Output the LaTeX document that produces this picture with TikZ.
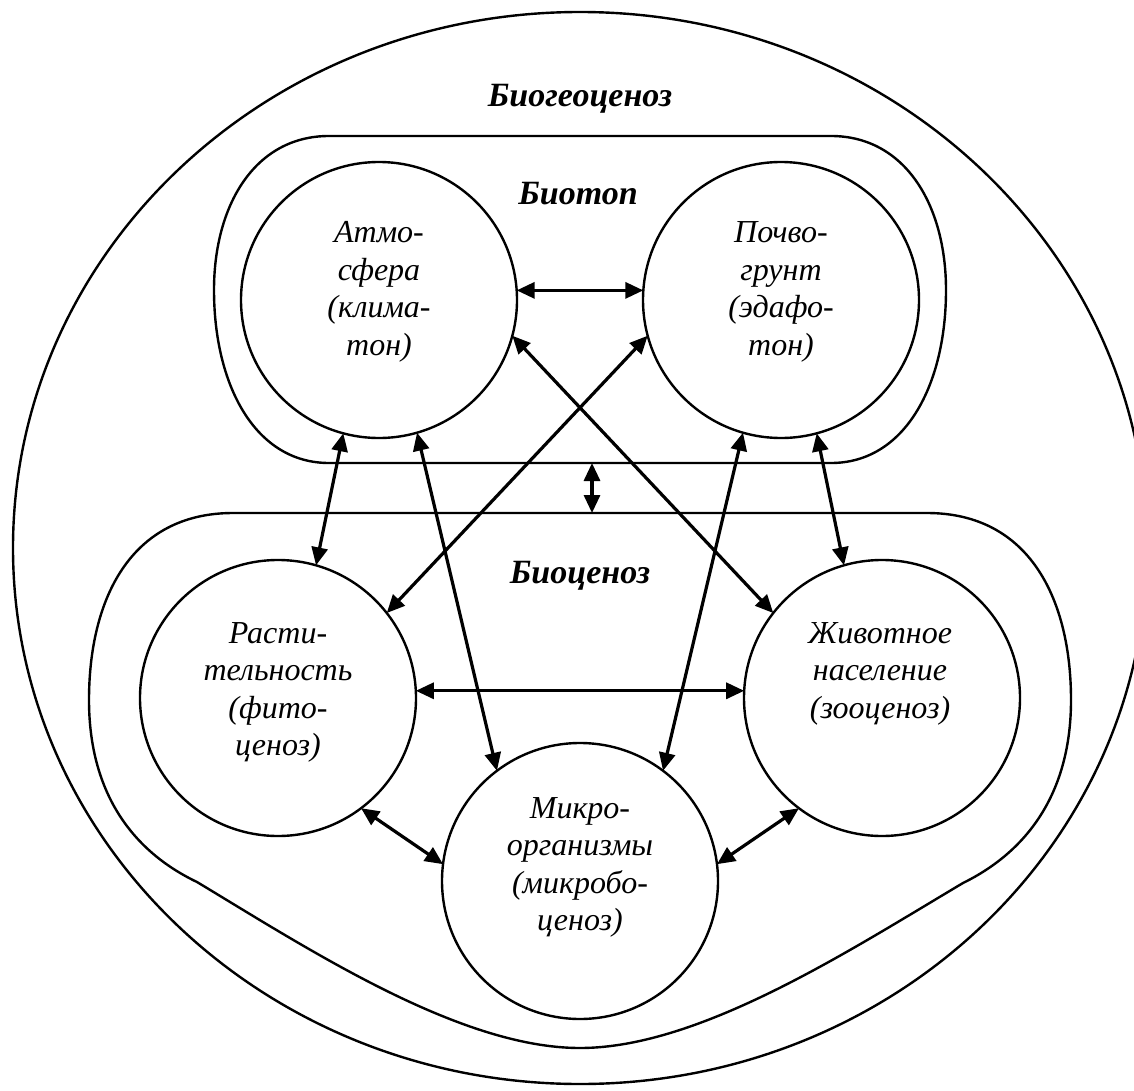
\documentclass[tikz,border=0pt]{standalone}
\usepackage{fontspec}
\setmainfont{Liberation Serif}
\usetikzlibrary{arrows.meta}
\begin{document}
\begin{tikzpicture}[x=1pt,y=-1pt,
  ring/.style={circle, draw, line width=2.4pt, minimum size=276pt, inner sep=0pt, outer sep=0pt},
  link/.style={{Triangle[length=18pt,width=16pt]}-{Triangle[length=18pt,width=16pt]}, line width=3.2pt},
  lab/.style={font=\fontsize{32}{37.5}\selectfont\itshape, inner sep=0pt, anchor=base},
  title/.style={font=\fontsize{34}{40}\selectfont\bfseries\itshape, inner sep=0pt, anchor=base},
  frame/.style={draw, line width=2.4pt}
]
\useasboundingbox (0,0) rectangle (1134,1091);
% outer biogeocenosis
\draw[frame] (580,548) ellipse [x radius=567, y radius=536];
\node[title] (tbgc) at (580,107) {Биогеоценоз};
% biotope
\draw[frame] (329,136) -- (831,136)
  .. controls (905,136) and (946,205) .. (946,290)
  .. controls (946,385) and (905,463) .. (831,463)
  -- (329,463)
  .. controls (255,463) and (214,385) .. (214,290)
  .. controls (214,205) and (255,136) .. cycle;
\coordinate (btBot) at (592,463);
\node[title] (tbt) at (578,205) {Биотоп};
% biocenosis
\draw[frame] (233,513) -- (927,513)
  .. controls (1030,513) and (1071,600) .. (1071,700)
  .. controls (1071,790) and (1030,850) .. (963,883)
  .. controls (850,950) and (700,1048) .. (580,1048)
  .. controls (460,1048) and (310,950) .. (197,882)
  .. controls (130,850) and (89,790) .. (89,700)
  .. controls (89,600) and (130,513) .. cycle;
\coordinate (bcTop) at (592,513);
\node[title] (tbc) at (580,583) {Биоценоз};
% circles
\node[ring] (atm) at (379,300) {};
\node[ring] (poch) at (781,300) {};
\node[ring] (rast) at (278,698) {};
\node[ring] (zhiv) at (882,698) {};
\node[ring] (mikro) at (580,881) {};
% labels
\node[lab] (tatm) at (379,243) {\begin{tabular}[t]{@{}c@{}}Атмо-\\сфера\\(клима-\\тон)\end{tabular}};
\node[lab] (tpoch) at (781,243) {\begin{tabular}[t]{@{}c@{}}Почво-\\грунт\\(эдафо-\\тон)\end{tabular}};
\node[lab] (trast) at (278,643) {\begin{tabular}[t]{@{}c@{}}Расти-\\тельность\\(фито-\\ценоз)\end{tabular}};
\node[lab] (tzhiv) at (880,643) {\begin{tabular}[t]{@{}c@{}}Животное\\население\\(зооценоз)\end{tabular}};
\node[lab] (tmikro) at (580,818) {\begin{tabular}[t]{@{}c@{}}Микро-\\организмы\\(микробо-\\ценоз)\end{tabular}};
% connectors
\draw[link] (atm.4) -- (poch.176);
\draw[link] (atm.-15) -- (zhiv.142);
\draw[link] (poch.-165) -- (rast.38);
\draw[link] (atm.-105) -- (rast.74);
\draw[link] (atm.-74) -- (mikro.127);
\draw[link] (poch.-106) -- (mikro.53);
\draw[link] (poch.-75) -- (zhiv.106);
\draw[link] (rast.3) -- (zhiv.177);
\draw[link] (rast.-53) -- (mikro.173);
\draw[link] (zhiv.-127) -- (mikro.7);
\draw[link] (btBot) -- (bcTop);
\end{tikzpicture}
\end{document}
